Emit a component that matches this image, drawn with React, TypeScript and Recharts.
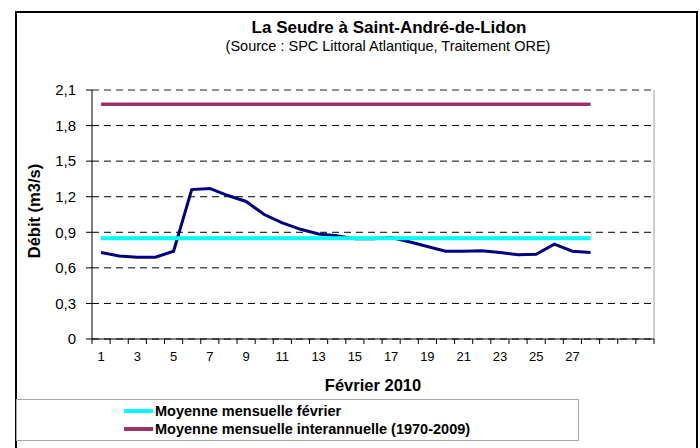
import { LineChart, Line, XAxis, YAxis, CartesianGrid, Legend, ReferenceLine } from 'recharts'

// jours du mois (l'axe garde 31 cases, seules 28 sont remplies)
const days = [1, 2, 3, 4, 5, 6, 7, 8, 9, 10, 11, 12, 13, 14, 15, 16, 17, 18, 19, 20, 21, 22, 23, 24, 25, 26, 27, 28, 29, 30, 31]
const dayLabels = ['1', '3', '5', '7', '9', '11', '13', '15', '17', '19', '21', '23', '25', '27']

// débit journalier février 2010 (m3/s)
const debit = [
  0.73, 0.7, 0.69, 0.69, 0.74, 1.26, 1.27, 1.21, 1.16, 1.05, 0.98, 0.925, 0.885, 0.87,
  0.845, 0.845, 0.855, 0.82, 0.78, 0.74, 0.74, 0.745, 0.73, 0.71, 0.715, 0.8, 0.74, 0.73,
]
const moyenneFevrier = 0.85
const moyenneInterannuelle = 1.98
const nbJoursFevrier = 28

const yTicks = [0, 0.3, 0.6, 0.9, 1.2, 1.5, 1.8, 2.1]

const data = days.map((d, i) => ({
  jour: d,
  debit: debit[i],
  fevrier: d <= nbJoursFevrier ? moyenneFevrier : undefined,
  interannuelle: d <= nbJoursFevrier ? moyenneInterannuelle : undefined,
}))

// graduations entre les cases (façon Excel) + libellés au centre
const xTicks = [...days.map(d => d - 0.5), days[days.length - 1] + 0.5, ...days]

const FONT = '"Liberation Sans", Arial, sans-serif'

function formatY(v: number) {
  return v === 0 ? '0' : v.toFixed(1).replace('.', ',')
}

function DayTick({ x, y, payload }: any) {
  const v = payload.value
  if (!Number.isInteger(v)) {
    return <line x1={x} x2={x} y1={y} y2={y + 5} stroke="#000" />
  }
  if (!dayLabels.includes(String(v))) return null
  return (
    <text x={x} y={y + 22} textAnchor="middle" fontSize={13} fill="#000" fontFamily={FONT}>
      {v}
    </text>
  )
}

function LegendBox({ payload }: any) {
  const items = (payload ?? []).filter((p: any) => p.type !== 'none')
  return (
    <div
      style={{
        width: 563,
        height: 42,
        boxSizing: 'border-box',
        border: '1px solid #a6a6a6',
        background: '#fff',
        paddingTop: 2,
        paddingLeft: 107,
        fontFamily: FONT,
      }}
    >
      {items.map((p: any) => (
        <div key={p.value} style={{ display: 'flex', alignItems: 'center', height: 18 }}>
          <span style={{ display: 'inline-block', width: 29, height: 4, background: p.color, marginRight: 2 }} />
          <span style={{ fontWeight: 'bold', fontSize: 14.5, color: '#000', whiteSpace: 'nowrap' }}>{p.value}</span>
        </div>
      ))}
    </div>
  )
}

export default function App() {
  return (
    <div style={{ position: 'absolute', left: 0, top: 0, width: 700, height: 448, overflow: 'hidden', background: '#fff', fontFamily: FONT }}>
      <div
        style={{
          position: 'absolute',
          left: 15,
          top: 11,
          width: 683,
          height: 460,
          border: '2px solid #000',
          boxSizing: 'border-box',
        }}
      />
      <div style={{ position: 'absolute', left: 389, top: 19, transform: 'translateX(-50%)', whiteSpace: 'nowrap', fontSize: 17, lineHeight: '17px', fontWeight: 'bold' }}>
        La Seudre à Saint-André-de-Lidon
      </div>
      <div style={{ position: 'absolute', left: 388, top: 39, transform: 'translateX(-50%)', whiteSpace: 'nowrap', fontSize: 14.5, lineHeight: '14.5px' }}>
        (Source : SPC Littoral Atlantique, Traitement ORE)
      </div>
      <div style={{ position: 'absolute', left: 373, top: 377, transform: 'translateX(-50%)', whiteSpace: 'nowrap', fontSize: 16.5, lineHeight: '16.5px', fontWeight: 'bold' }}>
        Février 2010
      </div>
      <div
        style={{
          position: 'absolute',
          left: 34,
          top: 211,
          transform: 'translate(-50%, -50%) rotate(-90deg)',
          whiteSpace: 'nowrap',
          fontSize: 16.5,
          lineHeight: '16.5px',
          fontWeight: 'bold',
        }}
      >
        Débit (m3/s)
      </div>
      <div style={{ position: 'absolute', left: 0, top: 0 }}>
        <LineChart width={700} height={448} data={data} margin={{ top: 90, right: 46, left: 32, bottom: 54 }}>
          <CartesianGrid vertical={false} stroke="#000" strokeDasharray="7 5" />
          <ReferenceLine y={2.1} stroke="#a0a0a0" strokeDasharray="7 5" />
          <ReferenceLine x={31.5} stroke="#a0a0a0" />
          <XAxis
            dataKey="jour"
            type="number"
            domain={[0.5, 31.5]}
            ticks={xTicks}
            interval={0}
            tick={<DayTick />}
            tickLine={false}
            tickSize={0}
            tickMargin={0}
            height={55}
            axisLine={{ stroke: '#000' }}
          />
          <YAxis
            type="number"
            domain={[0, 2.1]}
            ticks={yTicks}
            interval={0}
            tickFormatter={formatY}
            width={60}
            tickSize={6}
            tickMargin={10}
            tick={{ fontSize: 15, fill: '#000', fontFamily: FONT }}
            tickLine={{ stroke: '#000' }}
            axisLine={{ stroke: '#000' }}
          />
          <Legend
            layout="horizontal"
            verticalAlign="middle"
            align="center"
            content={<LegendBox />}
            wrapperStyle={{ left: 16, top: 399, width: 563, height: 42 }}
          />
          <Line
            type="linear"
            dataKey="debit"
            stroke="#000080"
            strokeWidth={3}
            dot={false}
            legendType="none"
            isAnimationActive={false}
          />
          <Line
            type="linear"
            dataKey="fevrier"
            name="Moyenne mensuelle février"
            stroke="#00ffff"
            strokeWidth={4}
            dot={false}
            isAnimationActive={false}
          />
          <Line
            type="linear"
            dataKey="interannuelle"
            name="Moyenne mensuelle interannuelle (1970-2009)"
            stroke="#993366"
            strokeWidth={3.5}
            dot={false}
            isAnimationActive={false}
          />
        </LineChart>
      </div>
    </div>
  )
}
